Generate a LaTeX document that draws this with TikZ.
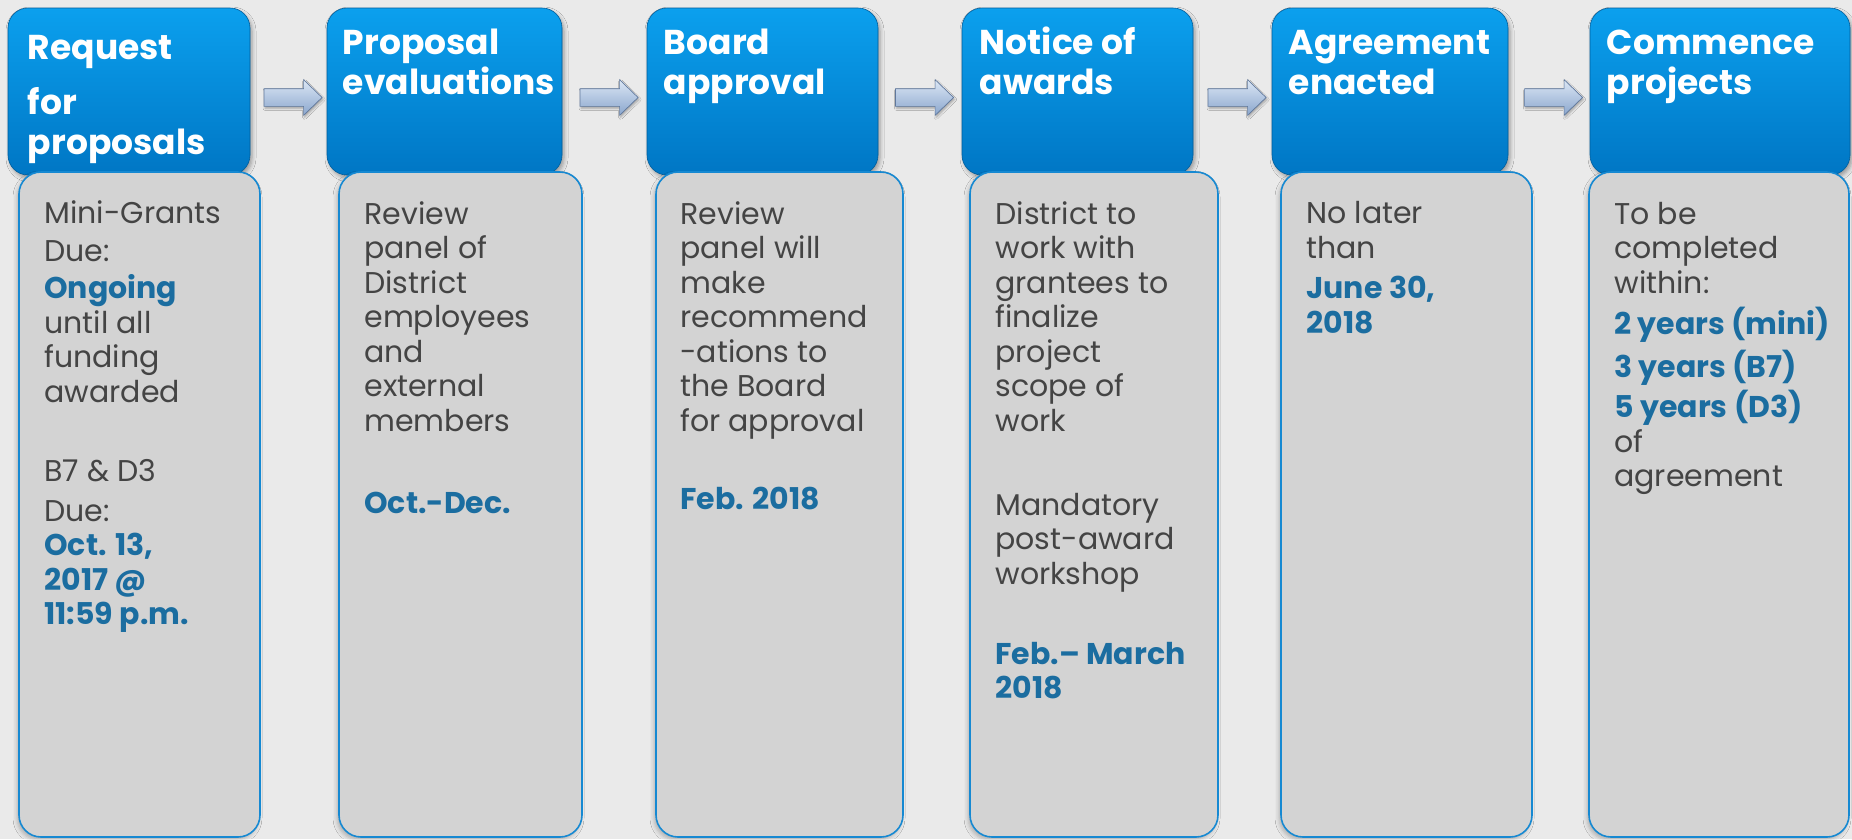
\documentclass[tikz,border=0pt]{standalone}
\usepackage{fontspec}
\setmainfont{Poppins}
\usepackage{tikz}
\usepackage{xcolor}
\usetikzlibrary{calc,shapes.arrows,shadows.blur}

\definecolor{pagebg}{HTML}{EAEAEA}
\definecolor{headtop}{HTML}{0BA0EE}
\definecolor{headbot}{HTML}{0076C4}
\definecolor{cardfill}{HTML}{D3D3D3}
\definecolor{cardline}{HTML}{1689D2}
\definecolor{bodytext}{HTML}{444444}
\definecolor{datetext}{HTML}{1B6DA0}
\definecolor{arrowtop}{HTML}{DCE7F5}
\definecolor{arrowbot}{HTML}{8AA6CD}
\definecolor{arrowline}{HTML}{60789C}

\newcommand{\when}[1]{\textcolor{datetext}{\bfseries #1}}

\begin{document}
\begin{tikzpicture}[x=1pt, y=-1pt,
    header/.style={rectangle, rounded corners=20pt, top color=headtop, bottom color=headbot,
        draw=headbot!80!black, line width=0.6pt, inner sep=0pt, minimum height=167pt,
        blur shadow={shadow xshift=2pt, shadow yshift=-3pt, shadow blur radius=4pt, shadow opacity=35}},
    card/.style={rectangle, rounded corners=22pt, fill=cardfill, draw=cardline, line width=1.6pt,
        inner sep=0pt, minimum height=665pt,
        blur shadow={shadow xshift=-2pt, shadow yshift=-3pt, shadow blur radius=4pt, shadow opacity=25}},
    headtext/.style={anchor=north west, inner sep=0pt, align=left, text=white,
        font=\fontsize{34.5}{40}\selectfont\bfseries},
    cardtext/.style={anchor=north west, inner sep=0pt, align=left, text=bodytext,
        font=\fontsize{30}{34.5}\selectfont},
    flowarrow/.style={single arrow, shape border rotate=0, minimum height=58pt,
        single arrow head extend=9pt, single arrow tip angle=88, inner sep=8.5pt,
        top color=arrowtop, bottom color=arrowbot, draw=arrowline, line width=0.7pt,
        blur shadow={shadow xshift=1pt, shadow yshift=-2pt, shadow blur radius=2pt, shadow opacity=30}}]

    \fill[pagebg] (0,0) rectangle (1852,839);
    \useasboundingbox (0,0) rectangle (1852,839);

    % headers
    \node[header, minimum width=242pt] (h1) at (129,91.5) {};
    \node[header, minimum width=235pt] (h2) at (444.5,91.5) {};
    \node[header, minimum width=231pt] (h3) at (762.5,91.5) {};
    \node[header, minimum width=231pt] (h4) at (1077.5,91.5) {};
    \node[header, minimum width=236pt] (h5) at (1390,91.5) {};
    \node[header, minimum width=260pt] (h6) at (1720,91.5) {};

    \node[headtext] (t1) at ($(h1.north west)+(20,24)$) {\strut Request\\[15pt]for\\proposals};
    \node[headtext] (t2) at ($(h2.north west)+(16,19)$) {\strut Proposal\\evaluations};
    \node[headtext] (t3) at ($(h3.north west)+(17,19)$) {\strut Board\\approval};
    \node[headtext] (t4) at ($(h4.north west)+(18,19)$) {\strut Notice of\\awards};
    \node[headtext] (t5) at ($(h5.north west)+(17,19)$) {\strut Agreement\\enacted};
    \node[headtext] (t6) at ($(h6.north west)+(17,19)$) {\strut Commence\\projects};

    % arrows between the headers
    \node[flowarrow, yshift=-6pt] (a1) at ($(h1.east)!0.5!(h2.west)$) {};
    \node[flowarrow, yshift=-6pt] (a2) at ($(h2.east)!0.5!(h3.west)$) {};
    \node[flowarrow, yshift=-6pt] (a3) at ($(h3.east)!0.5!(h4.west)$) {};
    \node[flowarrow, yshift=-6pt] (a4) at ($(h4.east)!0.5!(h5.west)$) {};
    \node[flowarrow, yshift=-6pt] (a5) at ($(h5.east)!0.5!(h6.west)$) {};

    % detail cards
    \node[card, minimum width=241pt] (b1) at (139.5,504.5) {};
    \node[card, minimum width=243pt] (b2) at (460.5,504.5) {};
    \node[card, minimum width=247pt] (b3) at (779.5,504.5) {};
    \node[card, minimum width=248pt] (b4) at (1094,504.5) {};
    \node[card, minimum width=251pt] (b5) at (1406.5,504.5) {};
    \node[card, minimum width=260pt] (b6) at (1719,504.5) {};

    \node[cardtext] (d1) at ($(b1.north west)+(26,28)$) {\strut Mini-Grants\\[3pt]Due:\\[3pt]\when{Ongoing}\\until all\\funding\\awarded\\[45pt]B7 \& D3\\[5pt]Due:\\\when{Oct. 13,}\\\when{2017 @}\\\when{11:59 p.m.}};
    \node[cardtext] (d2) at ($(b2.north west)+(26,28.5)$) {\strut Review\\panel of\\District\\employees\\and\\external\\members\\[47.5pt]\when{Oct.-Dec.}};
    \node[cardtext] (d3) at ($(b3.north west)+(25,28.5)$) {\strut Review\\panel will\\make\\recommend\\-ations to\\the Board\\for approval\\[43.5pt]\when{Feb. 2018}};
    \node[cardtext] (d4) at ($(b4.north west)+(26,28.5)$) {\strut District to\\work with\\grantees to\\finalize\\project\\scope of\\work\\[49.5pt]Mandatory\\post-award\\workshop\\[45.5pt]\when{Feb.-- March}\\\when{2018}};
    \node[cardtext] (d5) at ($(b5.north west)+(26,28)$) {\strut No later\\than\\[6pt]\when{June 30,}\\\when{2018}};
    \node[cardtext] (d6) at ($(b6.north west)+(26,28.5)$) {\strut To be\\completed\\within:\\[6.5pt]\when{2 years (mini)}\\[7.5pt]\when{3 years (B7)}\\[3.5pt]\when{5 years (D3)}\\of\\agreement};
\end{tikzpicture}
\end{document}
